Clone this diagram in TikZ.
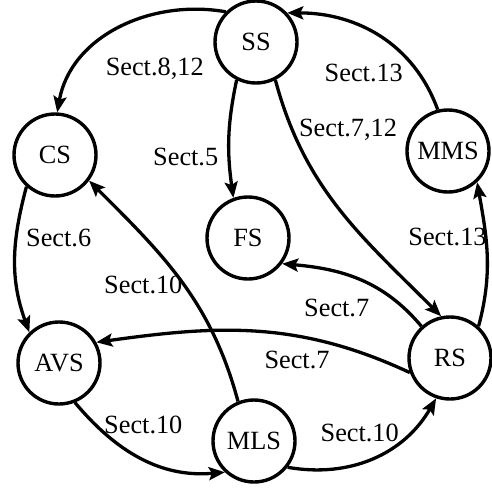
\documentclass[tikz,border=0pt]{standalone}
\usepackage{fontspec}
\setmainfont{Liberation Serif}
\usetikzlibrary{arrows.meta}
\begin{document}
\begin{tikzpicture}[x=1pt,y=1pt,
  state/.style={circle,draw,line width=3.4pt,minimum size=82pt,inner sep=0pt,font=\fontsize{26.3}{30}\selectfont},
  lbl/.style={anchor=base,inner sep=0pt,font=\fontsize{26.3}{30}\selectfont},
  conn/.style={line width=3.3pt,-{Stealth[length=16pt,width=13pt,inset=3pt]}}]
\useasboundingbox (0,0) rectangle (492,-487);
\node[state] (SS)  at (256,-42)  {SS};
\node[state] (CS)  at (55,-155)  {CS};
\node[state] (FS)  at (248,-238) {FS};
\node[state] (MMS) at (448,-151) {MMS};
\node[state] (AVS) at (59,-363)  {AVS};
\node[state] (RS)  at (450,-358) {RS};
\node[state] (MLS) at (254,-441) {MLS};
\draw[conn] (SS.135) to[out=170,in=80] (CS.87);
\draw[conn] (SS.243) to[out=258,in=98] (FS.110);
\draw[conn] (SS.297) to[out=285,in=135] (RS.102);
\draw[conn] (MMS.104) to[out=110,in=0] (SS.43);
\draw[conn] (RS.48) to[out=75,in=280] (MMS.313);
\draw[conn] (RS.132) to[out=130,in=-5] (FS.323);
\draw[conn] (RS.200) to[out=155,in=8] (AVS.29);
\draw[conn] (MLS.112) to[out=105,in=-45] (CS.323);
\draw[conn] (CS.228) to[out=255,in=110] (AVS.134);
\draw[conn] (AVS.292) to[out=-50,in=185] (MLS.227);
\draw[conn] (MLS.322) to[out=-10,in=240] (RS.251);
\node[lbl] (l1) at (154.7,-75) {Sect.8,12};
\node[lbl] (l2) at (185.7,-165) {Sect.5};
\node[lbl] (l3) at (348,-136.7) {Sect.7,12};
\node[lbl] (l4) at (363.8,-81.7) {Sect.13};
\node[lbl] (l5) at (447.5,-245) {Sect.13};
\node[lbl] (l6) at (336.7,-316.7) {Sect.7};
\node[lbl] (l7) at (297,-368.3) {Sect.7};
\node[lbl] (l8) at (143.3,-293.3) {Sect.10};
\node[lbl] (l9) at (58.7,-246.7) {Sect.6};
\node[lbl] (l10) at (143.3,-433.3) {Sect.10};
\node[lbl] (l11) at (359.7,-441.7) {Sect.10};
\end{tikzpicture}
\end{document}
